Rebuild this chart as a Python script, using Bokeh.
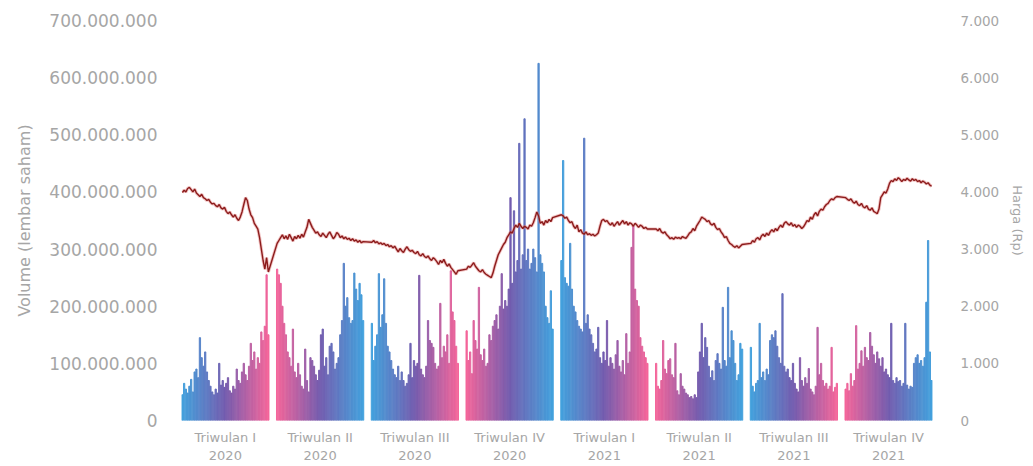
import numpy as np
from bokeh.plotting import figure
from bokeh.models import Range1d, LinearAxis, FixedTicker, ColumnDataSource
from bokeh.embed import file_html
from bokeh.resources import INLINE

# ---------------- data ----------------
quarter_labels = ["Triwulan I\n2020", "Triwulan II\n2020", "Triwulan III\n2020", "Triwulan IV\n2020",
                  "Triwulan I\n2021", "Triwulan II\n2021", "Triwulan III\n2021", "Triwulan IV\n2021"]

# daily volume, millions of shares
vol_q1_2020 = [45, 65, 55, 48, 60, 72, 50, 85, 90, 75, 145, 110, 95, 120, 85, 70, 60, 50, 45, 55,
               48, 100, 62, 70, 58, 65, 75, 52, 48, 60, 55, 90, 70, 65, 85, 100, 80, 70, 95, 135,
               105, 120, 90, 110, 100, 155, 140, 165, 255, 150]
vol_q2_2020 = [265, 255, 240, 200, 170, 150, 120, 110, 95, 160, 85, 75, 100, 80, 60, 55, 125, 70, 50, 110,
               105, 95, 80, 70, 88, 150, 160, 95, 110, 80, 130, 135, 120, 90, 100, 110, 150, 175, 275, 200,
               215, 180, 170, 175, 258, 230, 210, 240, 220, 175]
vol_q3_2020 = [170, 105, 130, 150, 257, 163, 185, 248, 170, 130, 120, 105, 90, 80, 75, 95, 70, 85, 70, 60,
               65, 80, 135, 75, 105, 95, 100, 254, 90, 80, 75, 95, 175, 140, 135, 128, 100, 90, 95, 205,
               110, 130, 120, 150, 100, 262, 190, 175, 130, 100]
vol_q4_2020 = [157, 105, 120, 82, 175, 140, 125, 233, 115, 105, 125, 95, 100, 150, 140, 165, 175, 185, 160, 200,
               257, 195, 210, 200, 230, 390, 240, 367, 260, 280, 485, 265, 290, 528, 280, 300, 265, 275, 300, 285,
               260, 625, 290, 275, 260, 200, 180, 170, 227, 160]
vol_q1_2021 = [280, 455, 250, 240, 235, 310, 230, 200, 190, 175, 165, 160, 155, 494, 170, 185, 160, 150, 135, 120,
               125, 163, 110, 100, 120, 105, 175, 95, 110, 100, 90, 115, 140, 95, 85, 105, 80, 152, 100, 120,
               303, 340, 230, 210, 200, 145, 130, 120, 110, 100]
vol_q2_2021 = [100, 60, 55, 70, 140, 90, 82, 105, 108, 80, 75, 135, 52, 45, 82, 60, 55, 48, 45, 40,
               42, 38, 45, 40, 85, 120, 170, 110, 145, 128, 95, 75, 87, 70, 105, 117, 100, 90, 198, 105,
               95, 233, 110, 157, 140, 100, 70, 80, 135, 125]
vol_q3_2021 = [128, 60, 50, 65, 70, 170, 75, 85, 70, 90, 80, 140, 150, 145, 157, 130, 110, 100, 222, 95,
               85, 90, 75, 70, 100, 65, 55, 50, 110, 70, 60, 75, 65, 91, 55, 50, 45, 60, 163, 80,
               100, 70, 60, 65, 55, 60, 128, 50, 58, 65]
vol_q4_2021 = [55, 65, 52, 82, 60, 70, 166, 90, 100, 122, 95, 128, 110, 105, 154, 130, 115, 100, 120, 108,
               95, 110, 85, 90, 80, 75, 170, 70, 65, 75, 68, 70, 60, 65, 170, 62, 55, 60, 58, 100,
               110, 115, 100, 105, 95, 110, 207, 315, 120, 70]

# daily closing price, Rp
price_q1_2020 = [3990, 4030, 4000, 4060, 4080, 4040, 4000, 4050, 3980, 3950, 3920, 3960, 3900, 3880, 3850, 3870,
                 3820, 3790, 3800, 3760, 3740, 3780, 3720, 3700, 3730, 3660, 3620, 3650, 3600, 3560, 3600, 3540,
                 3500, 3560, 3650, 3780, 3900, 3850, 3700, 3600, 3550, 3450, 3400, 3350, 3200, 3000, 2800, 2650,
                 2850, 2600]
price_q2_2020 = [3100, 3150, 3200, 3250, 3180, 3230, 3170, 3260, 3200, 3140, 3220, 3180, 3240, 3190, 3260, 3210,
                 3300, 3380, 3520, 3450, 3380, 3330, 3280, 3300, 3250, 3220, 3280, 3240, 3200, 3260, 3300, 3240,
                 3180, 3220, 3290, 3260, 3200, 3230, 3180, 3210, 3170, 3190, 3150, 3180, 3140, 3160, 3120, 3150,
                 3110, 3130]
price_q3_2020 = [3120, 3150, 3110, 3130, 3090, 3110, 3080, 3100, 3060, 3080, 3040, 3060, 3020, 3050, 3000, 2950,
                 3010, 2970, 2940, 3000, 3040, 2990, 2960, 2980, 2940, 2920, 2960, 2900, 2880, 2920, 2870, 2850,
                 2880, 2830, 2800, 2850, 2820, 2780, 2730, 2800, 2760, 2820, 2750, 2700, 2740, 2680, 2640, 2600,
                 2560, 2620]
price_q4_2020 = [2650, 2700, 2680, 2720, 2760, 2700, 2660, 2620, 2600, 2640, 2590, 2560, 2540, 2520, 2500, 2580,
                 2700, 2800, 2900, 2960, 3020, 3080, 3120, 3200, 3250, 3300, 3280, 3360, 3420, 3380, 3450, 3400,
                 3360, 3400, 3380, 3350, 3420, 3400, 3460, 3550, 3650, 3580, 3450, 3480, 3420, 3500, 3460, 3520,
                 3480, 3550]
price_q1_2021 = [3600, 3580, 3540, 3560, 3500, 3460, 3480, 3400, 3360, 3420, 3300, 3340, 3280, 3260, 3300, 3250,
                 3270, 3240, 3260, 3230, 3250, 3280, 3400, 3500, 3520, 3480, 3500, 3450, 3420, 3460, 3400, 3440,
                 3480, 3420, 3460, 3500, 3440, 3480, 3420, 3460, 3440, 3400, 3450, 3420, 3380, 3420, 3400, 3360,
                 3380, 3350]
price_q2_2021 = [3350, 3320, 3360, 3300, 3280, 3300, 3250, 3220, 3180, 3200, 3170, 3210, 3190, 3200, 3180, 3220,
                 3200, 3190, 3230, 3280, 3300, 3360, 3320, 3400, 3450, 3500, 3560, 3540, 3520, 3480, 3500, 3440,
                 3420, 3450, 3380, 3340, 3360, 3300, 3260, 3200, 3220, 3150, 3100, 3080, 3050, 3030, 3060, 3020,
                 3050, 3080]
price_q3_2021 = [3100, 3150, 3120, 3180, 3200, 3160, 3230, 3260, 3220, 3280, 3240, 3300, 3340, 3300, 3360, 3320,
                 3380, 3420, 3380, 3450, 3480, 3440, 3420, 3460, 3400, 3430, 3380, 3420, 3400, 3360, 3390, 3440,
                 3500, 3480, 3560, 3520, 3600, 3640, 3580, 3660, 3700, 3680, 3740, 3780, 3800, 3850, 3880, 3860,
                 3900, 3920]
price_q4_2021 = [3900, 3870, 3850, 3880, 3830, 3800, 3840, 3780, 3760, 3800, 3740, 3720, 3760, 3700, 3680, 3720,
                 3660, 3640, 3620, 3700, 3900, 3950, 4000, 3980, 4050, 4150, 4200, 4180, 4230, 4200, 4250, 4220,
                 4180, 4220, 4200, 4240, 4210, 4190, 4230, 4200, 4220, 4180, 4200, 4160, 4190, 4170, 4140, 4160,
                 4120, 4100]

vol_ticks = [0, 100, 200, 300, 400, 500, 600, 700]
vol_tick_labels = ["0", "100.000.000", "200.000.000", "300.000.000", "400.000.000",
                   "500.000.000", "600.000.000", "700.000.000"]
price_ticks = [0, 1000, 2000, 3000, 4000, 5000, 6000, 7000]
price_tick_labels = ["0", "1.000", "2.000", "3.000", "4.000", "5.000", "6.000", "7.000"]

volumes = [vol_q1_2020, vol_q2_2020, vol_q3_2020, vol_q4_2020,
           vol_q1_2021, vol_q2_2021, vol_q3_2021, vol_q4_2021]
prices = [price_q1_2020, price_q2_2020, price_q3_2020, price_q4_2020,
          price_q1_2021, price_q2_2021, price_q3_2021, price_q4_2021]

# ---------------- layout helpers ----------------
GAP = 4
BLUE = np.array([63, 159, 220])
PURPLE = np.array([112, 88, 172])
PINK = np.array([243, 98, 152])


def grad(t):
    if t < 0.5:
        c = BLUE + (PURPLE - BLUE) * (t / 0.5)
    else:
        c = PURPLE + (PINK - PURPLE) * ((t - 0.5) / 0.5)
    return "#%02x%02x%02x" % tuple(int(round(v)) for v in c)


xs, tops, colors, px, py = [], [], [], [], []
tick_pos = []
start = 0
for q, (vq, pq) in enumerate(zip(volumes, prices)):
    n = len(vq)
    for i, v in enumerate(vq):
        t = i / (n - 1)
        if q % 2 == 1:
            t = 1 - t
        xs.append(start + i)
        tops.append(v)
        colors.append(grad(t))
    for i, v in enumerate(pq):
        px.append(start + i)
        py.append(v)
    tick_pos.append(start + (n - 1) / 2)
    start += n + GAP

x_end = start - GAP - 0.5

bars = ColumnDataSource(dict(x=xs, top=tops, color=colors))
line = ColumnDataSource(dict(x=px, y=py))

FONT = "DejaVu Sans"
GREY = "#a6a6a6"

p = figure(width=1033, height=466, output_backend="svg", toolbar_location=None,
           x_range=Range1d(-0.5, x_end), y_range=Range1d(0, 700),
           min_border_left=181, min_border_right=101, min_border_top=20, min_border_bottom=46)
p.outline_line_color = None
p.xgrid.grid_line_color = None
p.ygrid.grid_line_color = None
p.background_fill_color = "white"
p.border_fill_color = "white"

p.extra_y_ranges = {"price": Range1d(0, 7000)}

p.vbar(x="x", top="top", bottom=0, width=0.72, color="color", alpha=0.95, source=bars)
p.line(x="x", y="y", source=line, y_range_name="price", line_color="#e07a7a", line_width=3.2, line_alpha=0.45)
p.line(x="x", y="y", source=line, y_range_name="price", line_color="#8c1c1c", line_width=1.4)

# left axis
ya = p.yaxis[0]
ya.ticker = FixedTicker(ticks=vol_ticks)
ya.major_label_overrides = {t: l for t, l in zip(vol_ticks, vol_tick_labels)}
ya.axis_label = "Volume (lembar saham)"

# right axis
ra = LinearAxis(y_range_name="price")
ra.ticker = FixedTicker(ticks=price_ticks)
ra.major_label_overrides = {t: l for t, l in zip(price_ticks, price_tick_labels)}
ra.axis_label = "Harga (Rp)"
p.add_layout(ra, "right")

for ax in (ya, ra):
    ax.axis_line_color = None
    ax.major_tick_line_color = None
    ax.minor_tick_line_color = None
    ax.major_label_text_color = GREY
    ax.major_label_text_font = FONT
    ax.axis_label_text_color = GREY
    ax.axis_label_text_font = FONT
    ax.axis_label_text_font_style = "normal"

ya.major_label_text_font_size = "17px"
ya.major_label_standoff = 18
ya.axis_label_text_font_size = "16px"
ya.axis_label_standoff = 12
ra.major_label_text_font_size = "13.5px"
ra.major_label_standoff = 22
ra.axis_label_text_font_size = "13px"
ra.axis_label_standoff = 8

xa = p.xaxis[0]
xa.ticker = FixedTicker(ticks=tick_pos)
xa.major_label_overrides = {t: l for t, l in zip(tick_pos, quarter_labels)}
xa.axis_line_color = None
xa.major_tick_line_color = None
xa.minor_tick_line_color = None
xa.major_label_text_color = GREY
xa.major_label_text_font = FONT
xa.major_label_text_font_size = "13px"
xa.major_label_standoff = 3

open("out.html", "w").write(file_html(p, INLINE))
